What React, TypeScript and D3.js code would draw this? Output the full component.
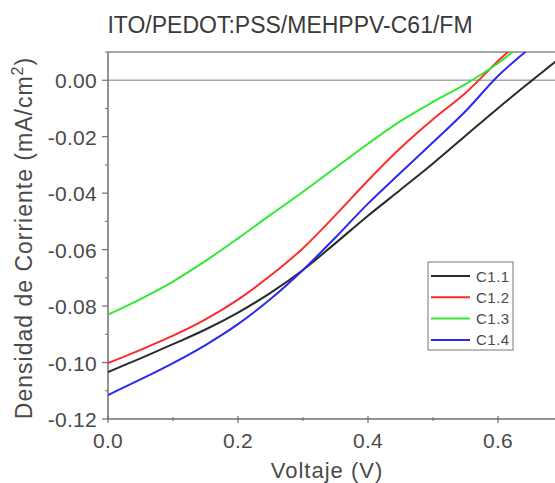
import React from "react";
import * as d3 from "d3";

const title = "ITO/PEDOT:PSS/MEHPPV-C61/FM";
const xLabel = "Voltaje (V)";
const yLabel = "Densidad de Corriente (mA/cm";
const seriesNames = ["C1.1", "C1.2", "C1.3", "C1.4"];
const seriesColors = ["#2a2a2a", "#ff2a2a", "#33e833", "#2a2aee"];

const vC11 = [0, 0.05, 0.1, 0.15, 0.2, 0.25, 0.3, 0.35, 0.4, 0.45, 0.5, 0.55, 0.6, 0.65, 0.688, 0.705];
const jC11 = [-0.1034, -0.0985, -0.0935, -0.0883, -0.0823, -0.0753, -0.0672, -0.0577, -0.048, -0.0388, -0.0295, -0.0197, -0.0099, -0.0005, 0.0065, 0.0098];

const vC12 = [0, 0.05, 0.1, 0.15, 0.2, 0.25, 0.3, 0.35, 0.4, 0.45, 0.5, 0.55, 0.6, 0.62];
const jC12 = [-0.1002, -0.0955, -0.0905, -0.0847, -0.0777, -0.0692, -0.0595, -0.0478, -0.0355, -0.024, -0.0138, -0.0045, 0.0068, 0.011];

const vC13 = [0, 0.05, 0.1, 0.15, 0.2, 0.25, 0.3, 0.35, 0.4, 0.45, 0.5, 0.55, 0.6, 0.625];
const jC13 = [-0.083, -0.0775, -0.0713, -0.064, -0.056, -0.0477, -0.0395, -0.031, -0.0225, -0.0145, -0.0077, -0.0014, 0.006, 0.0105];

const vC14 = [0, 0.05, 0.1, 0.15, 0.2, 0.25, 0.3, 0.35, 0.4, 0.45, 0.5, 0.55, 0.6, 0.645];
const jC14 = [-0.1115, -0.106, -0.1002, -0.0938, -0.0864, -0.0775, -0.0672, -0.0557, -0.0437, -0.0328, -0.022, -0.011, 0.0015, 0.0106];

const xTicks = [0, 0.2, 0.4, 0.6];
const xMinor = [0.1, 0.3, 0.5];
const yTicks = [0, -0.02, -0.04, -0.06, -0.08, -0.1, -0.12];
const yMinor = [0.01, -0.01, -0.03, -0.05, -0.07, -0.09, -0.11];

const W = 555;
const H = 483;
const L = 108, R = 563, T = 52, B = 419;

export default function App() {
  const x = d3.scaleLinear().domain([0, 0.7]).range([L, R]);
  const y = d3.scaleLinear().domain([-0.12, 0.01]).range([B, T]);
  const all = [
    [vC11, jC11],
    [vC12, jC12],
    [vC13, jC13],
    [vC14, jC14],
  ];
  const line = d3
    .line<[number, number]>()
    .x((d) => x(d[0]))
    .y((d) => y(d[1]))
    .curve(d3.curveCatmullRom.alpha(0.5));
  const font = "'Liberation Sans', Arial, sans-serif";
  const axisColor = "#6e6e6e";
  return (
    <svg
      width={W}
      height={H}
      style={{ position: "absolute", left: 0, top: 0, background: "#fff" }}
      fontFamily={font}
    >
      <defs>
        <clipPath id="plot">
          <rect x={L} y={T} width={R - L} height={B - T} />
        </clipPath>
      </defs>
      <text x={290} y={33} textAnchor="middle" fontSize={23} fill="#3a3a3a">
        {title}
      </text>
      {/* zero gridline */}
      <line x1={L} x2={R} y1={y(0)} y2={y(0)} stroke="#a8a8a8" strokeWidth={1.6} />
      {/* frame */}
      <line x1={L} x2={R} y1={T} y2={T} stroke="#8a8a8a" strokeWidth={1.5} />
      <line x1={L} x2={R} y1={B} y2={B} stroke={axisColor} strokeWidth={1.5} />
      <line x1={L} x2={L} y1={T} y2={B} stroke={axisColor} strokeWidth={1.5} />
      {/* y ticks */}
      {yTicks.map((t) => (
        <g key={"yt" + t}>
          <line x1={L - 6} x2={L} y1={y(t)} y2={y(t)} stroke={axisColor} strokeWidth={1.2} />
          <text x={97} y={y(t) + 8} textAnchor="end" fontSize={21} fill="#4a4a4a" letterSpacing={0.3}>
            {d3.format(".2f")(t).replace("−", "-")}
          </text>
        </g>
      ))}
      {yMinor.map((t) => (
        <line key={"ym" + t} x1={L - 3} x2={L} y1={y(t)} y2={y(t)} stroke={axisColor} strokeWidth={1} />
      ))}
      {/* x ticks */}
      {xTicks.map((t) => (
        <g key={"xt" + t}>
          <line x1={x(t)} x2={x(t)} y1={B - 3} y2={B + 4} stroke={axisColor} strokeWidth={1.2} />
          <text x={x(t)} y={448} textAnchor="middle" fontSize={21} fill="#4a4a4a" letterSpacing={0.3}>
            {d3.format(".1f")(t)}
          </text>
        </g>
      ))}
      {xMinor.map((t) => (
        <line key={"xm" + t} x1={x(t)} x2={x(t)} y1={B - 2} y2={B + 2} stroke={axisColor} strokeWidth={1} />
      ))}
      {/* series */}
      <g clipPath="url(#plot)">
        {all.map(([vs, js], i) => (
          <path
            key={seriesNames[i]}
            d={line(vs.map((v, k) => [v, js[k]] as [number, number])) || ""}
            fill="none"
            stroke={seriesColors[i]}
            strokeWidth={2}
          />
        ))}
      </g>
      {/* axis labels */}
      <text x={327} y={478} textAnchor="middle" fontSize={22} fill="#4a4a4a" letterSpacing={1}>
        {xLabel}
      </text>
      <text
        transform={`translate(32, 238) rotate(-90)`}
        textAnchor="middle"
        fontSize={23}
        fill="#4a4a4a"
        letterSpacing={1}
      >
        {yLabel}
        <tspan dy={-9} fontSize={16}>2</tspan>
        <tspan dy={9}>)</tspan>
      </text>
      {/* legend */}
      <rect x={428} y={262} width={85} height={88} fill="#fff" stroke="#777" strokeWidth={1} />
      {seriesNames.map((n, i) => (
        <g key={"lg" + n}>
          <line x1={431} x2={470} y1={276 + i * 21.3} y2={276 + i * 21.3} stroke={seriesColors[i]} strokeWidth={2} />
          <text x={476} y={276 + i * 21.3 + 5.5} fontSize={15} fill="#4a4a4a" letterSpacing={0.5}>
            {n}
          </text>
        </g>
      ))}
    </svg>
  );
}
